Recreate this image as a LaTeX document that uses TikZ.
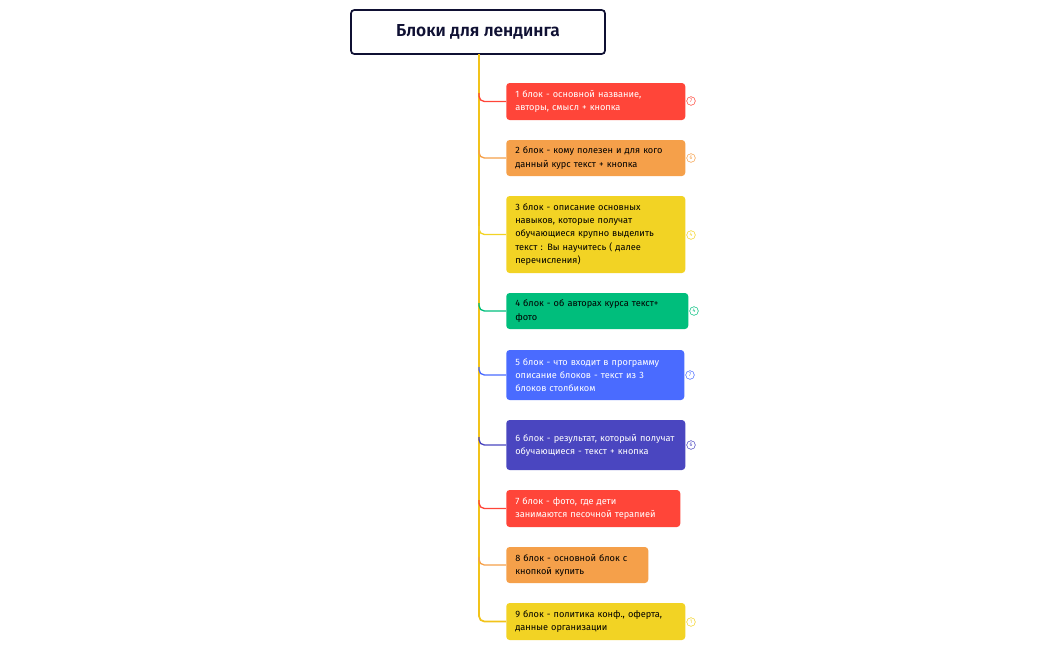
\documentclass[tikz,border=0pt]{standalone}
\usepackage{fontspec}
\setmainfont{Fira Sans}
\newfontfamily\titlefont{Fira Sans SemiBold}
\definecolor{cred}{HTML}{FF4539}
\definecolor{corange}{HTML}{F5A04A}
\definecolor{cyellow}{HTML}{F2D324}
\definecolor{cgreen}{HTML}{00BE7C}
\definecolor{cblue}{HTML}{4A6BFF}
\definecolor{cindigo}{HTML}{4A46C0}
\definecolor{ctrunk}{HTML}{F2C31A}
\definecolor{cnavy}{HTML}{0F1033}
\begin{document}
\begin{tikzpicture}[x=0.75pt,y=-0.75pt,
 blk/.style n args={4}{fill=#1, text=#2, text width=#3, minimum height=#4, rounded corners=2.5pt,
   inner xsep=6.75pt, inner ysep=2pt, align=left, anchor=west, font=\fontsize{6.9}{9.8}\selectfont},
 badge/.style={circle, draw=#1, line width=0.4pt, minimum size=6.5pt, inner sep=0pt, text=#1, font=\fontsize{4}{4}\selectfont},
 br/.style={draw=#1, line width=1pt, rounded corners=4pt}]
\useasboundingbox (0,0) rectangle (1049,650);
\node[draw=cnavy, line width=1.3pt, rounded corners=2.5pt, minimum width=190.5pt, minimum height=33pt, font=\titlefont\fontsize{13}{15}\selectfont, text=cnavy] (title) at (478,32) {Блоки для лендинга};
\coordinate (top) at (479,54);
\coordinate (bot) at (479,613);
% boxes
\node[blk={cred}{white}{120.75pt}{27.75pt}] (b1) at (506,101.5) {1 блок - основной название, авторы, смысл + кнопка};
\node[blk={corange}{black}{120.75pt}{27pt}] (b2) at (506,158) {2 блок - кому полезен и для кого данный курс текст + кнопка};
\node[blk={cyellow}{black}{120.75pt}{57.75pt}] (b3) at (506,234.5) {3 блок - описание основных навыков, которые получат обучающиеся крупно выделить текст : Вы научитесь ( далее перечисления)};
\node[blk={cgreen}{black}{123pt}{27pt}] (b4) at (506,311) {4 блок - об авторах курса текст+ фото};
\node[blk={cblue}{white}{120pt}{37.5pt}] (b5) at (506,375) {5 блок - что входит в программу описание блоков - текст из 3 блоков столбиком};
\node[blk={cindigo}{white}{120.75pt}{37.5pt}] (b6) at (506,445) {6 блок - результат, который получат обучающиеся - текст + кнопка};
\node[blk={cred}{white}{117pt}{27.75pt}] (b7) at (506,508.5) {7 блок - фото, где дети занимаются песочной терапией};
\node[blk={corange}{black}{93pt}{27pt}] (b8) at (506,565) {8 блок - основной блок с кнопкой купить};
\node[blk={cyellow}{black}{120.75pt}{27.75pt}] (b9) at (506,621.5) {9 блок - политика конф., оферта, данные организации};
% badges
\node[badge=cred] (c1) at (691,101) {7};
\node[badge=corange] (c2) at (691,158) {6};
\node[badge=cyellow] (c3) at (691,235) {4};
\node[badge=cgreen] (c4) at (694,311) {4};
\node[badge=cblue] (c5) at (690,375) {7};
\node[badge=cindigo] (c6) at (691,445) {6};
\node[badge=cyellow] (c9) at (691,622) {1};
% trunk
\draw[ctrunk, line width=1.3pt] (top) -- (bot);
\coordinate (t1) at (479,93);
\coordinate (t2) at (479,150);
\coordinate (t3) at (479,226);
\coordinate (t4) at (479,303);
\coordinate (t5) at (479,367);
\coordinate (t6) at (479,437);
\coordinate (t7) at (479,500);
\coordinate (t8) at (479,557);
\coordinate (t9) at (479,609);
\draw[br=cred] (t1) |- (b1.west);
\draw[br=corange] (t2) |- (b2.west);
\draw[br=cyellow] (t3) |- (b3.west);
\draw[br=cgreen] (t4) |- (b4.west);
\draw[br=cblue] (t5) |- (b5.west);
\draw[br=cindigo] (t6) |- (b6.west);
\draw[br=cred] (t7) |- (b7.west);
\draw[br=corange] (t8) |- (b8.west);
\draw[br=ctrunk, line width=1.3pt] (t9) |- (b9.west);
\end{tikzpicture}
\end{document}
